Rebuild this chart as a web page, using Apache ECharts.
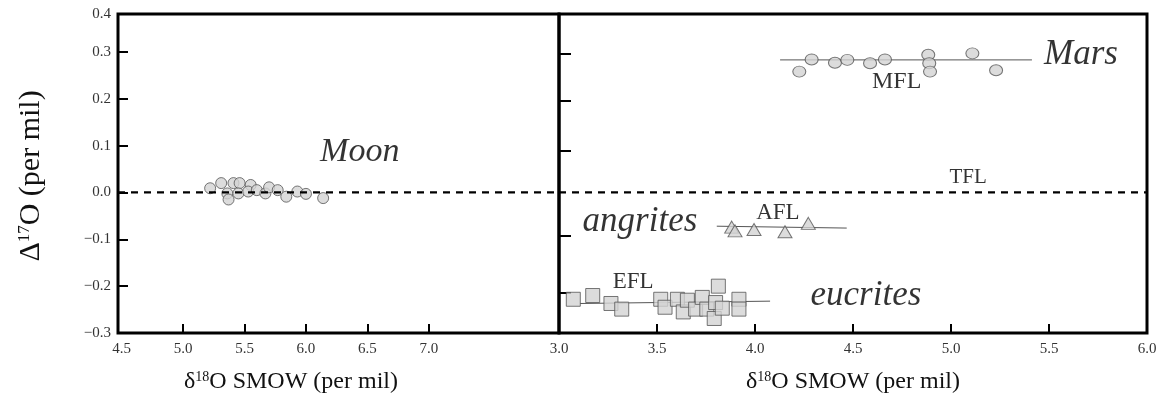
<!DOCTYPE html>
<html>
<head>
<meta charset="utf-8">
<script src="https://cdn.jsdelivr.net/npm/echarts@6/dist/echarts.min.js"></script>
<style>
  html, body { margin: 0; padding: 0; background: #fff; }
  #chart { width: 1164px; height: 404px; }
</style>
</head>
<body>
<div id="chart"></div>
<script>
// ---- data ----
// Moon (left panel)
const moonX = [5.22, 5.31, 5.41, 5.46, 5.55, 5.36, 5.37, 5.45, 5.53, 5.60, 5.67, 5.70, 5.77, 5.84, 5.93, 6.00, 6.14];
const moonY = [0.009, 0.020, 0.020, 0.020, 0.016, -0.002, -0.015, -0.002, 0.002, 0.005, -0.002, 0.011, 0.005, -0.009, 0.002, -0.003, -0.012];
// Mars (right panel)
const marsX = [4.226, 4.289, 4.408, 4.471, 4.587, 4.663, 4.884, 4.889, 4.893, 5.109, 5.230];
const marsY = [0.258, 0.284, 0.277, 0.283, 0.276, 0.284, 0.294, 0.276, 0.258, 0.297, 0.261];
// angrites
const angX = [3.881, 3.898, 3.995, 4.153, 4.272];
const angY = [-0.074, -0.082, -0.079, -0.084, -0.066];
// eucrites
const eucX = [3.073, 3.172, 3.265, 3.320, 3.519, 3.541, 3.604, 3.634, 3.655, 3.697, 3.731, 3.754, 3.799, 3.813, 3.792, 3.833, 3.918, 3.918];
const eucY = [-0.228, -0.220, -0.237, -0.249, -0.228, -0.245, -0.228, -0.255, -0.230, -0.249, -0.224, -0.249, -0.235, -0.200, -0.269, -0.247, -0.228, -0.249];
// fractionation lines (end points)
const mflX = [4.128, 5.413], mflY = [0.283, 0.283];
const aflX = [3.805, 4.468], aflY = [-0.072, -0.076];
const eflX = [3.107, 4.077], eflY = [-0.237, -0.232];
const tflY = 0.0;
// notes written in the plot
const bigNames = ['Mars', 'angrites', 'eucrites'];
const bigX = [5.663, 3.413, 4.566];
const bigY = [0.294, -0.063, -0.221];
const smallNames = ['MFL', 'TFL', 'AFL', 'EFL'];
const smallX = [4.723, 5.087, 4.117, 3.378];
const smallY = [0.237, 0.031, -0.044, -0.190];
const smallSizes = [24, 21, 23, 23];
const moonName = 'Moon', moonNoteX = 6.438, moonNoteY = 0.086;
// ticks and labels
const leftXLabels = [4.5, 5.0, 5.5, 6.0, 6.5, 7.0];
const leftXTicks = [5.0, 5.5, 6.0, 6.5, 7.0];
const rightXLabels = [3.0, 3.5, 4.0, 4.5, 5.0, 5.5, 6.0];
const rightXTicks = [3.5, 4.0, 4.5, 5.0, 5.5];
const yLabels = [-0.3, -0.2, -0.1, 0.0, 0.1, 0.2, 0.3, 0.381];
const yTicks = [-0.2, -0.1, 0.0, 0.1, 0.2, 0.3];
// the ticks on the divider sit a little off the left scale in the original
const yTicksRight = [-0.215, -0.093, 0.089, 0.195, 0.296];

const FONT = 'Liberation Serif';
const zip = (xs, ys) => xs.map((x, i) => [x, ys[i]]);

const chart = echarts.init(document.getElementById('chart'));

const tickLabel = {
  fontFamily: FONT, fontSize: 15, color: '#333', margin: 9,
  formatter: v => v > 0.35 && v < 0.4 ? '0.4' : (v < 0 ? '\u2212' + Math.abs(v).toFixed(1) : v.toFixed(1))
};
const symStyle = { color: '#d3d3d3', borderColor: '#555', borderWidth: 1 };
const fitLine = { color: '#555', width: 1 };
const tfl = { color: '#000', width: 2.2, type: [7, 6] };
const tickStyle = { color: '#000', width: 2 };

// axis titles with superscripts (rich text)
function title(text, x, y, size, rot) {
  return {
    type: 'text', x: x, y: y, rotation: rot || 0, z: 10,
    style: {
      text: text, align: 'center', verticalAlign: 'middle',
      fontFamily: FONT, fontSize: size, fill: '#111',
      rich: {
        g: { fontFamily: FONT, fontSize: size, fill: '#111' },
        s: { fontFamily: FONT, fontSize: Math.round(size * 0.58), fill: '#111', verticalAlign: 'top' }
      }
    }
  };
}
const xTitle = '{g|\u03b4}{s|18}{g|O SMOW (per mil)}';
const yTitle = '{g|\u0394}{s|17}{g|O (per mil)}';

chart.setOption({
  animation: false,
  backgroundColor: '#fff',
  textStyle: { fontFamily: FONT },
  grid: [
    { left: 118, right: 605, top: 14, bottom: 71, show: true, borderColor: '#000', borderWidth: 3 },
    { left: 559, right: 17, top: 14, bottom: 71, show: true, borderColor: '#000', borderWidth: 3 }
  ],
  graphic: [
    title(xTitle, 291, 382, 24),
    title(xTitle, 853, 382, 24),
    title(yTitle, 31, 176, 30, Math.PI / 2)
  ],
  xAxis: [
    {
      gridIndex: 0, type: 'value', min: 4.47, max: 8.06, position: 'bottom',
      axisLine: { show: false, onZero: false }, splitLine: { show: false },
      axisTick: { inside: true, length: 9, customValues: leftXTicks, lineStyle: tickStyle },
      axisLabel: Object.assign({ customValues: leftXLabels }, tickLabel)
    },
    {
      gridIndex: 1, type: 'value', min: 3.0, max: 6.0, position: 'bottom',
      axisLine: { show: false, onZero: false }, splitLine: { show: false },
      axisTick: { inside: true, length: 9, customValues: rightXTicks, lineStyle: tickStyle },
      axisLabel: Object.assign({ customValues: rightXLabels }, tickLabel)
    }
  ],
  yAxis: [
    {
      gridIndex: 0, type: 'value', min: -0.3, max: 0.381, position: 'left',
      axisLine: { show: false, onZero: false }, splitLine: { show: false },
      axisTick: { inside: true, length: 10, customValues: yTicks, lineStyle: tickStyle },
      axisLabel: Object.assign({}, tickLabel, { customValues: yLabels, margin: 7 })
    },
    {
      gridIndex: 1, type: 'value', min: -0.3, max: 0.381, position: 'left',
      axisLine: { show: false, onZero: false }, splitLine: { show: false },
      axisTick: { inside: true, length: 12, customValues: yTicksRight, lineStyle: tickStyle },
      axisLabel: { show: false }
    }
  ],
  series: [
    // left panel
    { type: 'scatter', xAxisIndex: 0, yAxisIndex: 0, symbol: 'circle', symbolSize: [11, 11],
      itemStyle: symStyle, data: zip(moonX, moonY), z: 2 },
    { type: 'line', xAxisIndex: 0, yAxisIndex: 0, symbol: 'none', lineStyle: tfl, z: 3,
      data: [[4.47, tflY], [8.06, tflY]] },
    { type: 'scatter', xAxisIndex: 0, yAxisIndex: 0, symbolSize: 0, z: 4,
      label: { show: true, position: 'inside', formatter: '{b}', fontFamily: FONT, fontStyle: 'italic', fontSize: 34, color: '#000' },
      data: [{ name: moonName, value: [moonNoteX, moonNoteY] }] },
    // right panel
    { type: 'line', xAxisIndex: 1, yAxisIndex: 1, symbol: 'none', lineStyle: tfl, z: 3,
      data: [[3.0, tflY], [6.0, tflY]] },
    { type: 'line', xAxisIndex: 1, yAxisIndex: 1, symbol: 'none', lineStyle: fitLine, z: 1, data: zip(mflX, mflY) },
    { type: 'line', xAxisIndex: 1, yAxisIndex: 1, symbol: 'none', lineStyle: fitLine, z: 1, data: zip(aflX, aflY) },
    { type: 'line', xAxisIndex: 1, yAxisIndex: 1, symbol: 'none', lineStyle: fitLine, z: 1, data: zip(eflX, eflY) },
    { type: 'scatter', xAxisIndex: 1, yAxisIndex: 1, symbol: 'circle', symbolSize: [13, 11],
      itemStyle: symStyle, data: zip(marsX, marsY), z: 2 },
    { type: 'scatter', xAxisIndex: 1, yAxisIndex: 1, symbol: 'triangle', symbolSize: [14, 12],
      itemStyle: symStyle, data: zip(angX, angY), z: 2 },
    { type: 'scatter', xAxisIndex: 1, yAxisIndex: 1, symbol: 'rect', symbolSize: 14,
      itemStyle: symStyle, data: zip(eucX, eucY), z: 2 },
    { type: 'scatter', xAxisIndex: 1, yAxisIndex: 1, symbolSize: 0, z: 4,
      label: { show: true, position: 'inside', formatter: '{b}', fontFamily: FONT, fontStyle: 'italic', fontSize: 35, color: '#000' },
      data: bigNames.map((n, i) => ({ name: n, value: [bigX[i], bigY[i]] })) },
    { type: 'scatter', xAxisIndex: 1, yAxisIndex: 1, symbolSize: 0, z: 4,
      label: { show: true, position: 'inside', formatter: '{b}', fontFamily: FONT, color: '#000' },
      data: smallNames.map((n, i) => ({ name: n, value: [smallX[i], smallY[i]], label: { fontSize: smallSizes[i] } })) }
  ]
});
</script>
</body>
</html>
